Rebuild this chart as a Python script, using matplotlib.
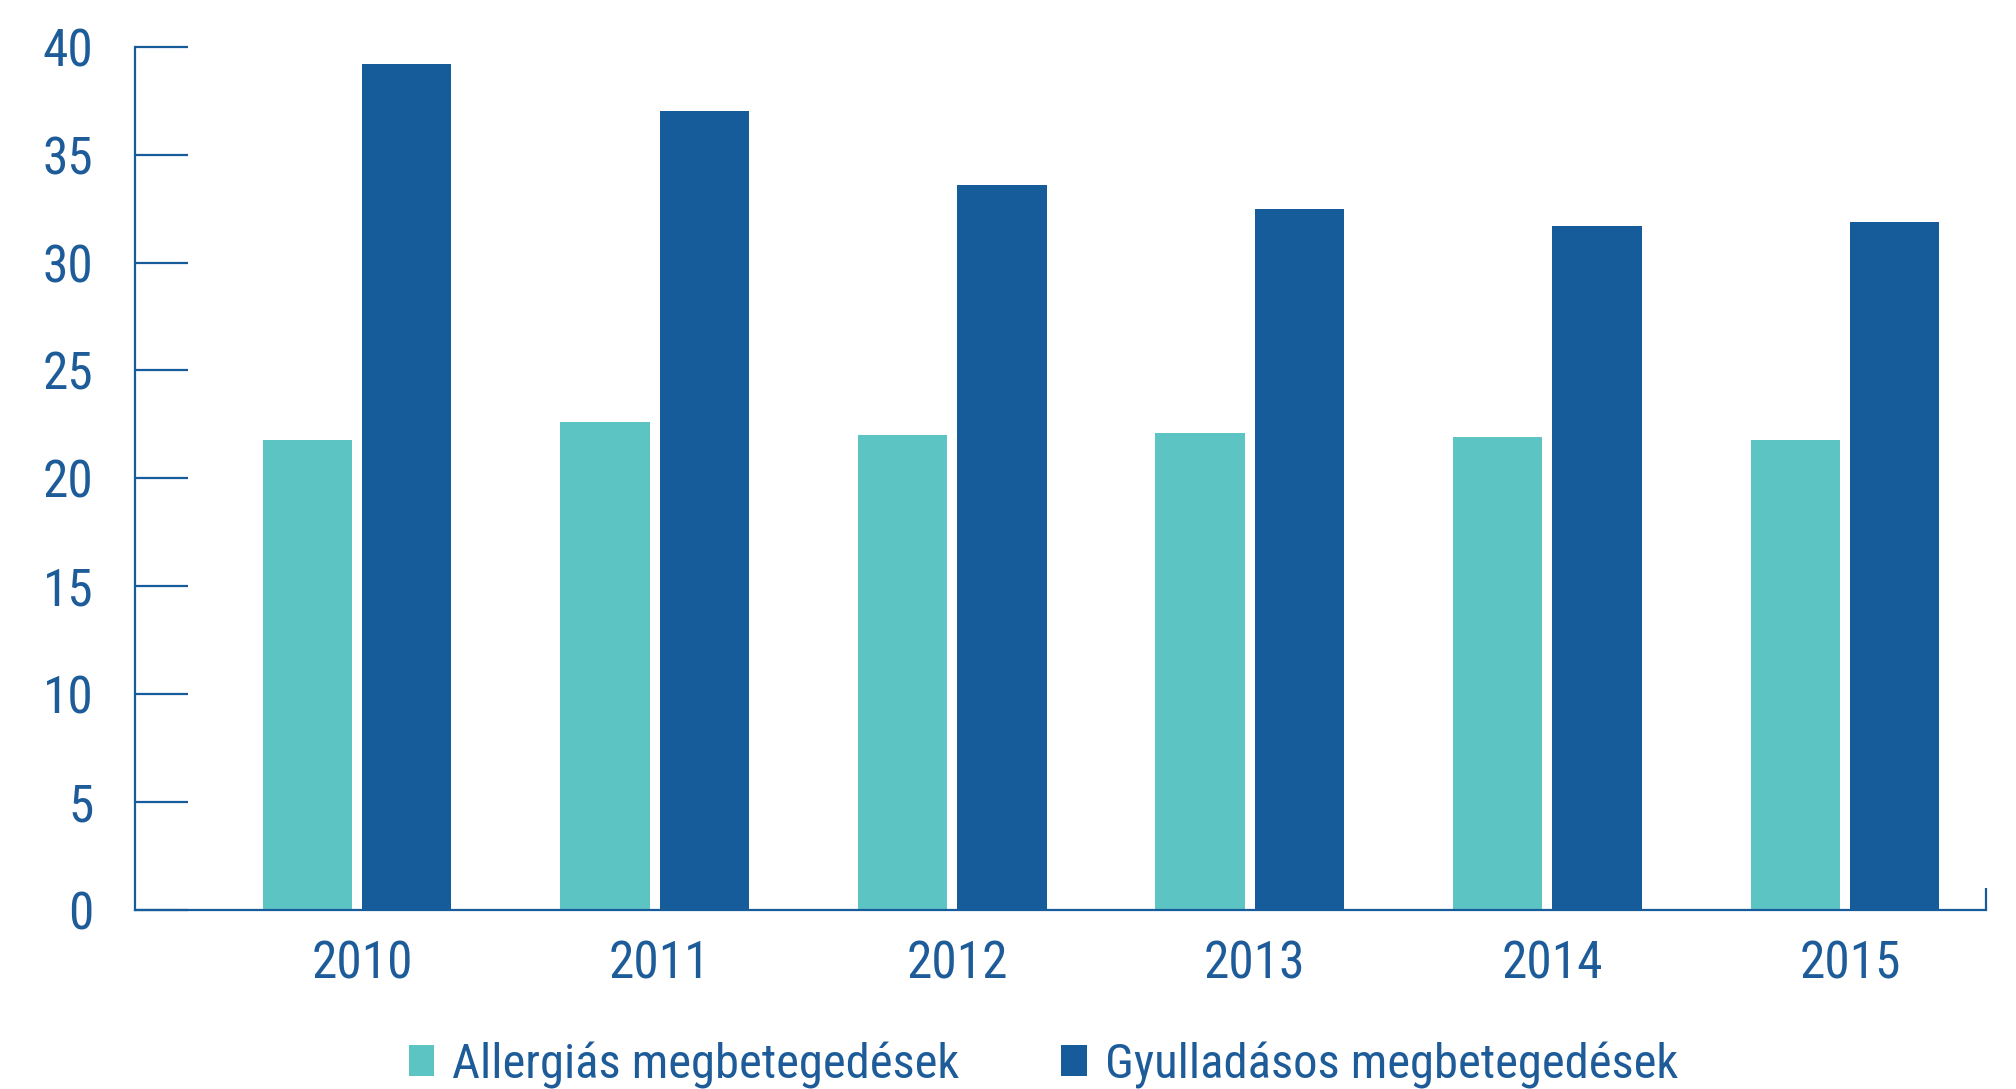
import matplotlib
matplotlib.use("Agg")
import matplotlib.pyplot as plt
from matplotlib import font_manager as fm
import numpy as np

years = ["2010", "2011", "2012", "2013", "2014", "2015"]
allergias = [21.8, 22.6, 22.0, 22.1, 21.9, 21.8]
gyulladasos = [39.2, 37.0, 33.6, 32.5, 31.7, 31.9]
series_names = ["Allergiás megbetegedések", "Gyulladásos megbetegedések"]
yticks = [0, 5, 10, 15, 20, 25, 30, 35, 40]

names = {f.name for f in fm.fontManager.ttflist}
fam = [n for n in ["Roboto Condensed", "Roboto", "DejaVu Sans"] if n in names]
plt.rcParams["font.family"] = fam
condensed = "Roboto Condensed" in names
fs = 37 if condensed else 32
lfs = 35 if condensed else 30

teal = "#5CC4C3"
navy = "#165B9A"
txt = "#1D5C99"

fig = plt.figure(figsize=(20.16, 10.89), dpi=100)
ax = fig.add_axes([135 / 2016, 1 - 910 / 1089, (1986 - 135) / 2016, (910 - 46.7) / 1089])

x = np.arange(len(years))
w = 0.30
ax.bar(x - 0.168, allergias, width=w, color=teal, label=series_names[0], zorder=2)
ax.bar(x + 0.166, gyulladasos, width=w, color=navy, label=series_names[1], zorder=2)

ax.set_xlim(-0.747, 5.473)
ax.set_ylim(0, 40)
ax.set_yticks(yticks)
ax.set_yticklabels([str(v) for v in yticks])
ax.set_xticks(x + 0.016)
ax.set_xticklabels(years)

for s in ["top", "right"]:
    ax.spines[s].set_visible(False)
for s in ["left", "bottom"]:
    ax.spines[s].set_color(navy)
    ax.spines[s].set_linewidth(1.6)

ax.tick_params(axis="y", direction="in", length=38, width=1.6, color=navy,
               labelcolor=txt, labelsize=fs, pad=30)
ax.tick_params(axis="x", length=0, labelcolor=txt, labelsize=fs, pad=21)

ax.plot([1, 1], [0, 0.025], transform=ax.transAxes, color=navy, lw=1.6,
        clip_on=False, solid_capstyle="butt")

leg = fig.legend(loc="center", bbox_to_anchor=(0.5175, 0.022), ncol=2, frameon=False,
                 fontsize=lfs, handlelength=0.53, handleheight=0.6, handletextpad=0.36,
                 columnspacing=2.1)
for t in leg.get_texts():
    t.set_color(txt)

fig.savefig("out.png", dpi=100)
